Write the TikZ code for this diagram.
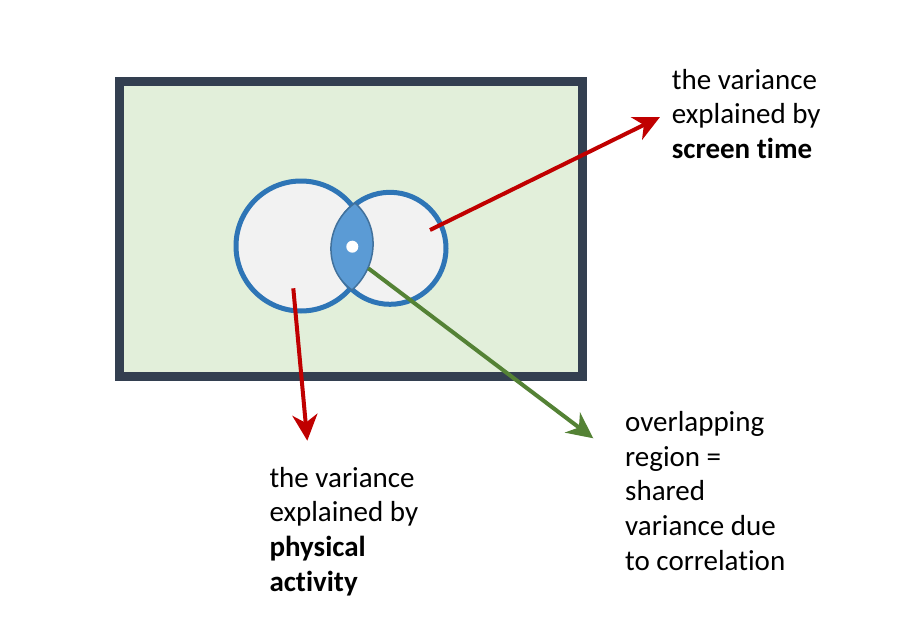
\documentclass[tikz,border=0pt]{standalone}
\usepackage{fontspec}
\setmainfont{Carlito}[Ligatures=NoCommon]
\usetikzlibrary{arrows.meta}
\definecolor{bgGreen}{HTML}{E2EFDA}
\definecolor{frameDark}{HTML}{333F50}
\definecolor{circBlue}{HTML}{2E75B6}
\definecolor{circFill}{HTML}{F2F2F2}
\definecolor{lensFill}{HTML}{5B9BD5}
\definecolor{lensLine}{HTML}{41719C}
\definecolor{arrRed}{HTML}{C00000}
\definecolor{arrGreen}{HTML}{548235}
\begin{document}
\begin{tikzpicture}[x=1pt,y=-1pt,
  labeltext/.style={anchor=base west, align=left, inner sep=0pt,
    font=\fontsize{29pt}{34.6pt}\selectfont},
  pointer/.style={line width=4pt, -{Stealth[length=26pt,width=25pt,inset=8pt]}},
  venn/.style={draw=circBlue, line width=5pt, fill=circFill},
  lensedge/.style={draw=lensLine, line width=1.5pt, fill=lensFill}]
\useasboundingbox (0,0) rectangle (898,635);
\fill[white] (0,0) rectangle (898,635);
% frame
\draw[frameDark, line width=9pt, fill=bgGreen] (119.5,81) rectangle (582,376);
% circles
\path[venn] (301,246) circle [radius=65pt];
\path[venn] (390,248.3) circle [radius=56pt];
% lens (overlap)
\coordinate (lensTop) at (355,203);
\coordinate (lensBot) at (352,290);
\path[lensedge] (lensTop) .. controls (325,224.3) and (322,268.7) .. (lensBot)
  .. controls (378,266.9) and (381,226.1) .. (lensTop) -- cycle;
\fill[white] (352.3,246.7) circle [radius=6pt];
% labels (anchor = baseline of last line)
\node[labeltext] (st) at (671.7,158.3) {the variance\\explained by\\\textbf{screen time}};
\node[labeltext] (pa) at (269.3,591.1) {the variance\\explained by\\\textbf{physical}\\\textbf{activity}};
\node[labeltext] (ov) at (625,570) {overlapping\\region =\\shared\\variance due\\to correlation};
% connectors
\coordinate (stFrom) at (430,230);
\coordinate (stTip) at (660,117);
\coordinate (paFrom) at (293.3,288.3);
\coordinate (paTip) at (307.3,440.7);
\coordinate (ovFrom) at (368.3,268.3);
\coordinate (ovTip) at (593.3,438.3);
\draw[pointer, arrRed] (stFrom) -- (stTip);
\draw[pointer, arrRed] (paFrom) -- (paTip);
\draw[pointer, arrGreen] (ovFrom) -- (ovTip);
\end{tikzpicture}
\end{document}
